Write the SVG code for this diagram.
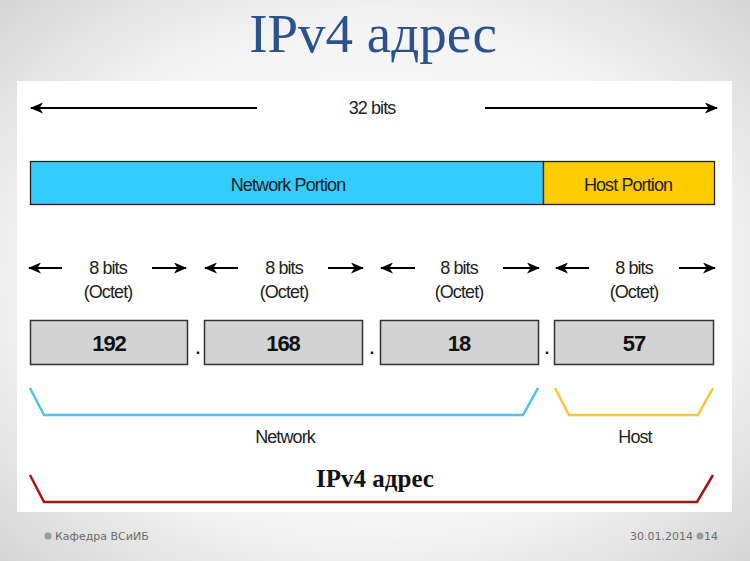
<svg xmlns="http://www.w3.org/2000/svg" width="750" height="561" viewBox="0 0 750 561">
<defs>
<radialGradient id="bg" cx="50%" cy="50%" r="75%">
<stop offset="0" stop-color="#ffffff"/>
<stop offset="0.6" stop-color="#f4f4f4"/>
<stop offset="1" stop-color="#cfcfcf"/>
</radialGradient>
<marker id="ah" viewBox="0 0 13 11" refX="12" refY="5.5" markerWidth="13" markerHeight="11" markerUnits="userSpaceOnUse" orient="auto-start-reverse">
<path d="M0,0 L13,5.5 L0,11 L3.5,5.5 Z" fill="#000"/>
</marker>
<style>
.t{font-family:"Liberation Sans",Arial,sans-serif;fill:#222;text-anchor:middle}
.s{font-size:18px;letter-spacing:-0.9px}
.num{font-size:22px;font-weight:bold;fill:#111;letter-spacing:-1px}
.box{fill:#d3d3d3;stroke:#333;stroke-width:1.5}
.arr{stroke:#000;stroke-width:2.2;fill:none}
.br{fill:none;stroke-width:2.5}
.ft{font-family:"DejaVu Sans","Liberation Sans",sans-serif;font-size:11px;fill:#6a6a6a}
</style>
</defs>
<rect width="750" height="561" fill="url(#bg)"/>
<text x="373" y="52" font-family="Liberation Serif,'Times New Roman',serif" font-size="55" fill="#2c528e" text-anchor="middle">IPv4 адрес</text>
<rect x="17" y="81" width="715" height="431" fill="#ffffff"/>

<g id="connectors">
<line class="arr" x1="257" y1="108" x2="31" y2="108" marker-end="url(#ah)"/>
<line class="arr" x1="485" y1="108" x2="717" y2="108" marker-end="url(#ah)"/>
<line class="arr" x1="62" y1="268" x2="29" y2="268" marker-end="url(#ah)"/>
<line class="arr" x1="152" y1="268" x2="186" y2="268" marker-end="url(#ah)"/>
<line class="arr" x1="238" y1="268" x2="205" y2="268" marker-end="url(#ah)"/>
<line class="arr" x1="328" y1="268" x2="363" y2="268" marker-end="url(#ah)"/>
<line class="arr" x1="415" y1="268" x2="381" y2="268" marker-end="url(#ah)"/>
<line class="arr" x1="503" y1="268" x2="539" y2="268" marker-end="url(#ah)"/>
<line class="arr" x1="589" y1="268" x2="556" y2="268" marker-end="url(#ah)"/>
<line class="arr" x1="679" y1="268" x2="715" y2="268" marker-end="url(#ah)"/>
</g>
<text class="t s" x="372" y="114">32 bits</text>

<g id="network-portion">
<rect x="30.5" y="161.5" width="513" height="43" fill="#33ccff" stroke="#222" stroke-width="1.3"/>
<text class="t s" x="288" y="191" fill="#1a2a3a">Network Portion</text>
</g>
<g id="host-portion">
<rect x="543.5" y="161.5" width="171" height="43" fill="#ffcc00" stroke="#222" stroke-width="1.3"/>
<text class="t s" x="628" y="191">Host Portion</text>
</g>

<g id="octet-labels">
<text class="t s" x="108" y="274">8 bits</text>
<text class="t s" x="108" y="298">(Octet)</text>
<text class="t s" x="284" y="274">8 bits</text>
<text class="t s" x="284" y="298">(Octet)</text>
<text class="t s" x="459" y="274">8 bits</text>
<text class="t s" x="459" y="298">(Octet)</text>
<text class="t s" x="634" y="274">8 bits</text>
<text class="t s" x="634" y="298">(Octet)</text>
</g>

<g id="octet1"><rect class="box" x="30.5" y="320.5" width="157" height="44"/><text class="t num" x="109" y="351">192</text></g>
<g id="octet2"><rect class="box" x="204.5" y="320.5" width="158" height="44"/><text class="t num" x="283" y="351">168</text></g>
<g id="octet3"><rect class="box" x="380.5" y="320.5" width="158" height="44"/><text class="t num" x="459" y="351">18</text></g>
<g id="octet4"><rect class="box" x="554.5" y="320.5" width="159" height="44"/><text class="t num" x="634" y="351">57</text></g>
<g id="dots" font-family="Liberation Sans,sans-serif" font-size="16" font-weight="bold" fill="#111" text-anchor="middle">
<text x="198" y="354">.</text>
<text x="372" y="354">.</text>
<text x="547" y="354">.</text>
</g>

<g id="network-bracket">
<polyline class="br" stroke="#4cc4ec" points="30,388 44,415 523,415 538,388"/>
<text class="t s" x="285" y="443">Network</text>
</g>
<g id="host-bracket">
<polyline class="br" stroke="#f2c83a" points="555,388 569,415 698,415 713,388"/>
<text class="t s" x="635" y="443">Host</text>
</g>
<g id="ipv4-bracket">
<polyline class="br" stroke="#a31515" points="30,475 44,502 697,502 713,475"/>
<text x="375" y="487" font-family="Liberation Serif,'Times New Roman',serif" font-size="25" font-weight="bold" fill="#111" text-anchor="middle">IPv4 адрес</text>
</g>

<g id="footer">
<circle cx="48" cy="536" r="3.5" fill="#999"/>
<text class="ft" x="55" y="540">Кафедра ВСиИБ</text>
<text class="ft" x="693" y="540" text-anchor="end">30.01.2014</text>
<circle cx="700" cy="536" r="3.5" fill="#999"/>
<text class="ft" x="704" y="540">14</text>
</g>
</svg>
